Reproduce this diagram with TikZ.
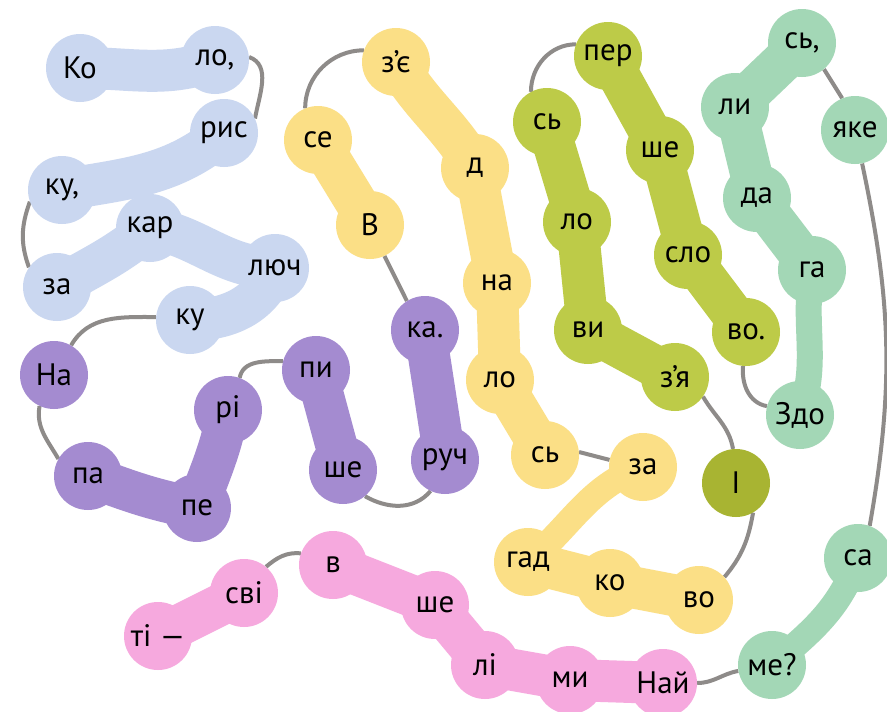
\documentclass[tikz,border=0pt]{standalone}
\usepackage{fontspec}
\setmainfont{PT Sans}
\pgfdeclarelayer{back}
\pgfdeclarelayer{necks}
\pgfsetlayers{back,necks,main}
\definecolor{blueC}{HTML}{CAD7F0}
\definecolor{purpC}{HTML}{A48BD0}
\definecolor{yelC}{HTML}{FBDF86}
\definecolor{oliveC}{HTML}{BDCB48}
\definecolor{oliveD}{HTML}{A8B432}
\definecolor{mintC}{HTML}{A3D7B6}
\definecolor{pinkC}{HTML}{F6A9DE}
\definecolor{grayC}{HTML}{8E8B89}
\tikzset{
  blob/.style={circle, minimum size=68pt, inner sep=0pt, font=\fontsize{31}{31}\selectfont},
  bl/.style={blob, fill=blueC},
  pu/.style={blob, fill=purpC},
  ye/.style={blob, fill=yelC},
  ol/.style={blob, fill=oliveC},
  mi/.style={blob, fill=mintC},
  pk/.style={blob, fill=pinkC},
  neck/.style={line width=42pt, line cap=round, line join=round},
  thinneck/.style={line width=26pt, line cap=round},
  conn/.style={draw=grayC, line width=4pt},
}
\begin{document}
\begin{tikzpicture}[x=1pt,y=1pt]
\begin{pgfonlayer}{back}
\fill[white] (0,0) rectangle (887,-712);
\end{pgfonlayer}
\useasboundingbox (0,0) rectangle (887,-712);
% blue
\node[bl] (b1) at (80,-68) {Ко};
\node[bl] (b2) at (215,-60) {ло,};
\node[bl] (b3) at (224,-133) {рис};
\node[bl] (b4) at (62,-190) {ку,};
\node[bl] (b5) at (150,-228) {кар};
\node[bl] (b6) at (57,-287) {за};
\node[bl] (b7) at (275,-268) {люч};
\node[bl] (b8) at (190,-320) {ку};
% purple
\node[pu] (p1) at (54,-375) {На};
\node[pu] (p2) at (88,-476) {па};
\node[pu] (p3) at (197,-508) {пе};
\node[pu] (p4) at (228,-410) {рі};
\node[pu] (p5) at (316,-370) {пи};
\node[pu] (p6) at (343,-470) {ше};
\node[pu] (p7) at (445,-460) {руч};
\node[pu] (p8) at (425,-330) {ка.};
% yellow
\node[ye] (y1) at (396,-62) {з’є};
\node[ye] (y2) at (318,-140) {се};
\node[ye] (y3) at (370,-225) {В};
\node[ye] (y4) at (475,-168) {д};
\node[ye] (y5) at (497,-283) {на};
\node[ye] (y6) at (500,-380) {ло};
\node[ye] (y7) at (545,-455) {сь};
\node[ye] (y8) at (643,-467) {за};
\node[ye] (y9) at (528,-562) {гад};
\node[ye] (y10) at (610,-583) {ко};
\node[ye] (y11) at (699,-600) {во};
% olive
\node[ol] (o1) at (608,-56) {пер};
\node[ol] (o2) at (547,-122) {сь};
\node[ol] (o3) at (577,-222) {ло};
\node[ol] (o4) at (588,-330) {ви};
\node[ol] (o5) at (675,-377) {з’я};
\node[ol] (o6) at (660,-150) {ше};
\node[ol] (o7) at (688,-255) {сло};
\node[ol] (o8) at (746,-332) {во.};
\node[blob, fill=oliveD] (oI) at (736,-483) {І};
% mint
\node[mi] (m1) at (802,-43) {сь,};
\node[mi] (m2) at (735,-107) {ли};
\node[mi] (m3) at (757,-198) {да};
\node[mi] (m4) at (812,-270) {га};
\node[mi] (m5) at (800,-415) {Здо};
\node[mi] (m6) at (855,-130) {яке};
\node[mi] (m7) at (858,-558) {са};
\node[mi] (m8) at (772,-665) {ме?};
% pink
\node[pk] (k1) at (158,-636) {ті —};
\node[pk] (k2) at (244,-593) {сві};
\node[pk] (k3) at (333,-565) {в};
\node[pk] (k4) at (435,-605) {ше};
\node[pk] (k5) at (485,-665) {лі};
\node[pk] (k6) at (570,-680) {ми};
\node[pk] (k7) at (663,-683) {Най};
\begin{pgfonlayer}{necks}
% necks
\draw[neck, blueC] (b1.center) to[out=0,in=200] (b2.center);
\draw[neck, blueC] (b3.center) to[out=220,in=10] (b4.center);
\draw[neck, blueC] (b6.center) to[out=30,in=220] (b5.center);
\draw[neck, blueC] (b5.center) to[out=-10,in=180] (b7.center);
\draw[neck, blueC] (b7.center) to[out=-110,in=0] (b8.center);
\draw[neck, purpC] (p2.center) to[out=-20,in=170] (p3.center);
\draw[neck, purpC] (p3.center) to[out=70,in=-100] (p4.center);
\draw[neck, purpC] (p5.center) -- (p6.center);
\draw[neck, purpC] (p7.center) -- (p8.center);
\draw[neck, yelC] (y2.center) -- (y3.center);
\draw[neck, yelC] (y1.center) to[out=-60,in=120] (y4.center);
\draw[neck, yelC] (y4.center) -- (y5.center) -- (y6.center) -- (y7.center);
\draw[thinneck, yelC] (y8.center) to[out=200,in=40] (y9.center);
\draw[neck, yelC] (y9.center) -- (y10.center) -- (y11.center);
\draw[neck, oliveC] (o2.center) -- (o3.center) -- (o4.center) -- (o5.center);
\draw[neck, oliveC] (o1.center) -- (o6.center) -- (o7.center) -- (o8.center);
\draw[neck, mintC] (m1.center) -- (m2.center) -- (m3.center) -- (m4.center);
\draw[thinneck, mintC] (m4.center) to[out=-100,in=70] (m5.center);
\draw[thinneck, mintC] (m7.center) to[out=-110,in=40] (m8.center);
\draw[neck, pinkC] (k1.center) -- (k2.center);
\draw[neck, pinkC] (k3.center) -- (k4.center) -- (k5.center) -- (k6.center) -- (k7.center);
% grey connectors
\draw[conn] (b2.5) to[out=-20,in=80] (b3.25);
\draw[conn] (b4.200) to[out=250,in=110] (b6.145);
\draw[conn] (b8.175) to[out=180,in=60] (p1.60);
\draw[conn] (p1.245) to[out=260,in=120] (p2.150);
\draw[conn] (p4.70) to[out=80,in=180] (p5.165);
\draw[conn] (p6.-50) to[out=-30,in=230] (p7.245);
\draw[conn] (y3.-65) -- (p8.122);
\draw[conn] (y1.160) to[out=180,in=90] (y2.112);
\draw[conn] (y7.5) -- (y8.168);
\draw[conn] (y11.42) to[out=50,in=-100] (oI.-60);
\draw[conn] (o1.160) to[out=180,in=90] (o2.118);
\draw[conn] (o5.-35) to[out=-60,in=100] (oI.95);
\draw[conn] (o8.-95) to[out=-95,in=170] (m5.165);
\draw[conn] (m1.-50) -- (m6.112);
\draw[conn] (m6.-78) to[out=-78,in=80] (m7.70);
\draw[conn] (k2.50) to[out=40,in=175] (k3.160);
\draw[conn] (k7.0) to[out=0,in=190] (m8.190);
\end{pgfonlayer}
\end{tikzpicture}
\end{document}
